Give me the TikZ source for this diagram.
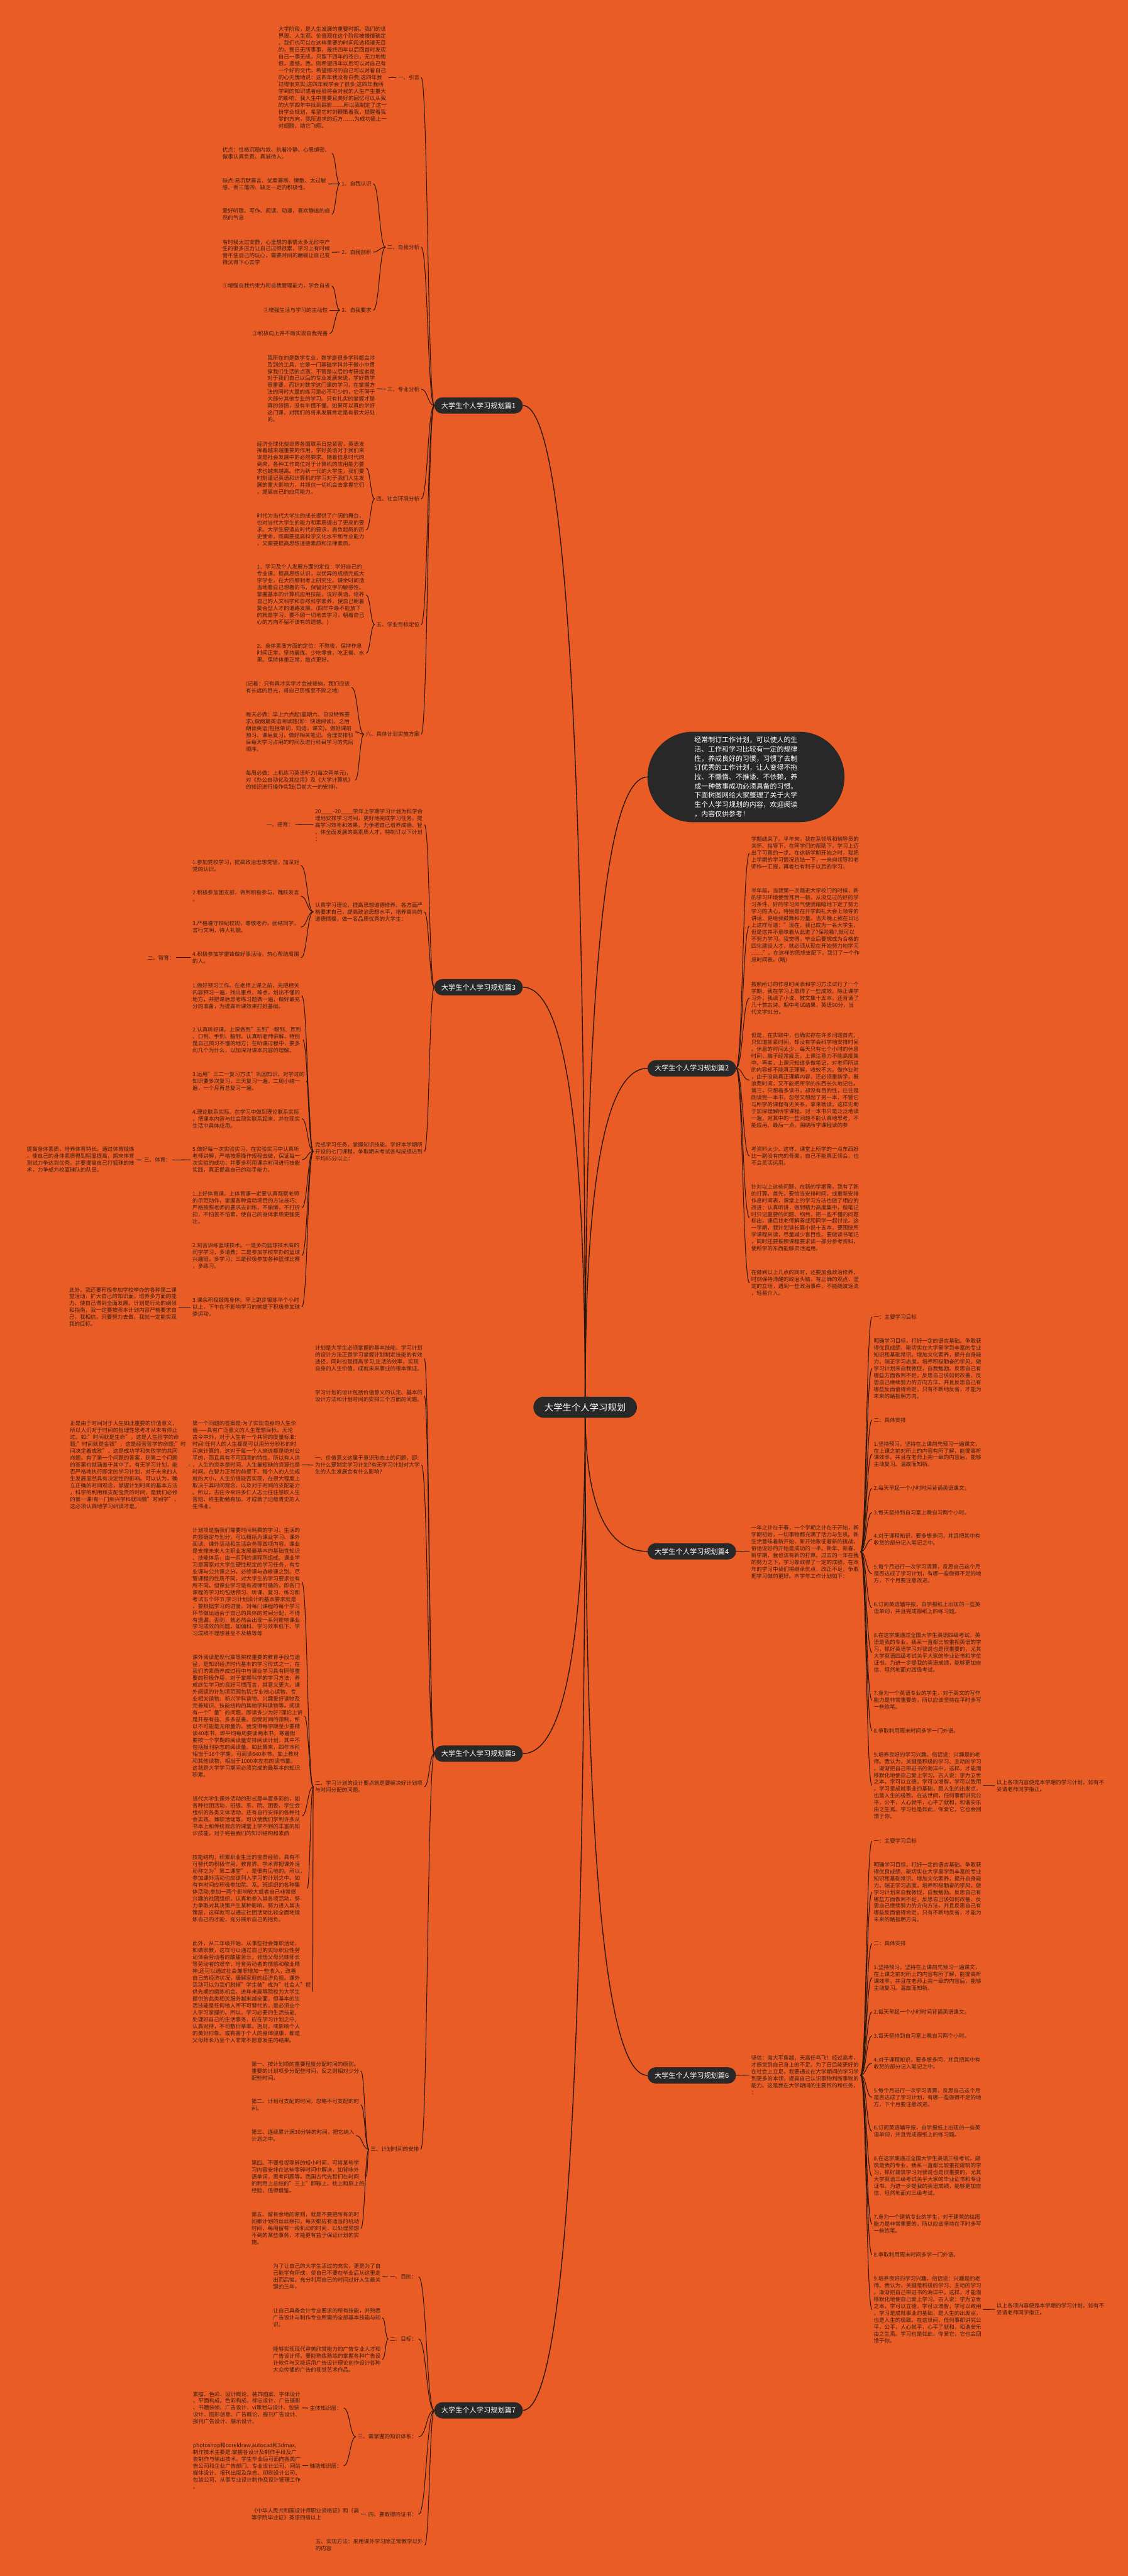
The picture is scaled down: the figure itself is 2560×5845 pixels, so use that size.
\documentclass[tikz,border=0pt]{standalone}
\usepackage{fontspec}
\setmainfont{Noto Sans CJK SC}
\usetikzlibrary{calc}
\definecolor{bgc}{RGB}{234,92,38}
\definecolor{nodec}{RGB}{40,40,40}
\definecolor{linec}{RGB}{40,24,16}
\definecolor{txtc}{RGB}{52,30,20}
\newcommand\leaffnt{\fontsize{12.2}{15.65}\selectfont}
\pgfdeclarelayer{back}
\pgfsetlayers{back,main}
\newcommand\lnk[2]{\draw[conn] let \p1=(#1), \p2=(#2) in (\p1) .. controls ({(\x1+\x2)/2},\y1) and ({(\x1+\x2)/2},\y2) .. (\p2);}
\newcommand\mygoaltxt{明确学习目标，打好一定的语言基础。争取获\\得优良成绩，能切实在大学里学到丰富的专业\\知识和基础常识。增加文化素养，提升自身能\\力，端正学习态度，培养积极勤奋的学风。做\\学习计划来自我敦促，自我勉励。反思自己有\\哪些方面做到不足，反思自己该如何改善、反\\思自己继续努力的方向方法，并且反思自己有\\哪些反面值得肯定，只有不断地反省，才能为\\未来的路指明方向。}
\newcommand\mypretxt{1.坚持预习，坚持在上课前先预习一遍课文，\\在上课之前对所上的内容有所了解，能提高听\\课效率。并且在老师上完一章的内容后，能够\\主动复习。温故而知新。}
\newcommand\myninetxt{9.培养良好的学习兴趣。俗话说：兴趣是的老\\师。我认为，关键是积极的学习、主动的学习\\。渐渐把自己带进书的海洋中，这样，才能潜\\移默化地使自己爱上学习。古人说：学为立世\\之本，学可以立德，学可以增智，学可以致用\\。学习是成就事业的基础，是人生的出发点，\\也是人生的极致。在这世间，任何事都讲究公\\平，公平，人心就平，心平了就和，和谐安乐\\由之生焉。学习也是如此，你爱它，它也会回\\馈于你。}
\newcommand\myendtxt{以上各项内容便是本学期的学习计划，如有不\\妥请老师同学指正。}
\begin{document}
\begin{tikzpicture}[x=1pt,y=-1pt,
 leaf/.style={font=\leaffnt,text=txtc,align=left,inner sep=0pt,outer sep=4pt},
 bnode/.style={fill=nodec,text=white,rounded corners=18.5pt,minimum width=201pt,minimum height=37pt,inner sep=0pt,outer sep=0pt,font=\fontsize{16}{18}\selectfont},
 rootn/.style={fill=nodec,text=white,rounded corners=24pt,minimum width=235pt,minimum height=48pt,inner sep=0pt,outer sep=0pt,font=\fontsize{20.5}{22}\selectfont},
 bubble/.style={fill=nodec,text=white,rounded corners=102pt,minimum width=447pt,minimum height=205pt,inner sep=0pt,outer sep=0pt,align=left,font=\fontsize{15.6}{21}\selectfont},
 conn/.style={draw=linec,line width=1.5pt},
 trunk/.style={draw=linec,line width=2pt}]
\useasboundingbox (0,0) rectangle (2560,5845);

% ---------- root and main branches ----------
\node[rootn] (root) at (1328,3193) {大学生个人学习规划};
\node[bnode] (b1) at (1086,920) {大学生个人学习规划篇1};
\node[bnode] (b3) at (1086,2240) {大学生个人学习规划篇3};
\node[bnode] (b5) at (1086,3979) {大学生个人学习规划篇5};
\node[bnode] (b7) at (1086,5469) {大学生个人学习规划篇7};
\node[bnode] (b2) at (1570,2424) {大学生个人学习规划篇2};
\node[bnode] (b4) at (1570,3520) {大学生个人学习规划篇4};
\node[bnode] (b6) at (1570,4709) {大学生个人学习规划篇6};
\node[bubble] (intro) at (1693,1763) {经常制订工作计划，可以使人的生\\活、工作和学习比较有一定的规律\\性，养成良好的习惯，习惯了去制\\订优秀的工作计划，让人变得不拖\\拉、不懒惰、不推诿、不依赖，养\\成一种做事成功必须具备的习惯。\\下面树图网给大家整理了关于大学\\生个人学习规划的内容，欢迎阅读\\，内容仅供参考！};

% ---------- branch 1 ----------
\node[leaf,anchor=east] (l1a) at (956,176) {一、引言};
\node[leaf,anchor=west] (t1a) at (628,176) {大学阶段，是人生发展的重要时期。我们的世\\界观、人生观、价值观在这个阶段被慢慢确定\\。我们也可以在这样重要的时间段选择漫无目\\的，整日无所事事，最终四年以后回首时发现\\自己一事无成，只留下四年的苍白，无力地悔\\恨，遗憾。我，则希望四年以后可以对自己有\\一个好的交代，希望那时的自己可以对着自己\\的心无愧地说：这四年我没有白费;这四年我\\过得很充实;这四年我学会了很多;这四年我所\\学到的知识或者经验将会对我的人生产生重大\\的影响。我人生中重要且美好的回忆可以从我\\的大学四年中找到踪影……所以我制定了这一\\份学业规划，希望它时刻鞭策着我，提醒着我\\梦的方向，我所追求的远方……为成功插上一\\对翅膀，助它飞翔。};
\node[leaf,anchor=east] (l1b) at (956,561) {二、自我分析};
\node[leaf,anchor=east] (l1b1) at (847,417) {1、自我认识};
\node[leaf,anchor=east] (l1b2) at (847,572) {2、自我剖析};
\node[leaf,anchor=east] (l1b3) at (847,704) {3、自我要求};
\node[leaf,anchor=west] (t1b1a) at (501,348) {优点：性格沉稳内敛、执着冷静、心思缜密、\\做事认真负责、真诚待人。};
\node[leaf,anchor=west] (t1b1b) at (501,417.5) {缺点:易沉默寡言、优柔寡断、懒散、太过敏\\感、丢三落四、缺乏一定的积极性。};
\node[leaf,anchor=west] (t1b1c) at (501,486.5) {爱好听歌、写作、阅读、动漫，喜欢静谧的自\\然的气息};
\node[leaf,anchor=west] (t1b2) at (501,572.5) {有时候太过安静，心里想的事情太多无形中产\\生的很多压力让自己过得很累，学习上有时候\\管不住自己的玩心，需要时间的磨砺让自己变\\得沉得下心去学};
\node[leaf,anchor=west] (t1b3a) at (501,649) {①增强自我约束力和自我管理能力，学会自省};
\node[leaf,anchor=east] (t1b3b) at (748,704) {②增强生活与学习的主动性};
\node[leaf,anchor=east] (t1b3c) at (748,757) {③积极向上并不断实现自我完善};
\node[leaf,anchor=east] (l1c) at (956,883) {三、专业分析};
\node[leaf,anchor=west] (t1c) at (603,882) {我所在的是数学专业，数学是很多学科都会涉\\及到的工具，它是一门基础学科并于微小中贯\\穿我们生活的点滴。不管是以后的考研或者是\\对于我们自己以后的专业发展来说，学好数学\\很重要。而针对数学这门课的学习，在掌握方\\法的同时大量的练习是必不可少的，它不同于\\大部分其他专业的学习。只有扎实的掌握才是\\真的领悟，没有半懂不懂。如果可以真的学好\\这门课，对我们的将来发展肯定是有很大好处\\的。};
\node[leaf,anchor=east] (l1d) at (956,1132) {四、社会环境分析};
\node[leaf,anchor=west] (t1d1) at (579,1062) {经济全球化使世界各国联系日益紧密，英语发\\挥着越来越重要的作用，学好英语对于我们来\\说是社会发展中的必然要求。随着信息时代的\\到来，各种工作岗位对于计算机的应用能力要\\求也越来越高。作为新一代的大学生，我们要\\时刻谨记英语和计算机的学习对于我们人生发\\展的重大影响力，并抓住一切机会去掌握它们\\，提高自己的应用能力。};
\node[leaf,anchor=west] (t1d2) at (579,1202.5) {时代为当代大学生的成长提供了广阔的舞台，\\也对当代大学生的能力和素质提出了更高的要\\求。大学生要适应时代的要求，肩负起新的历\\史使命，既需要提高科学文化水平和专业能力\\，又需要提高思想道德素质和法律素质。};
\node[leaf,anchor=east] (l1e) at (956,1417) {五、学业目标定位};
\node[leaf,anchor=west] (t1e1) at (579,1350) {1、学习及个人发展方面的定位：学好自己的\\专业课，提高思想认识，以优异的成绩完成大\\学学业，在大四顺利考上研究生。课余时间适\\当地看自己想看的书，保留对文字的敏感性。\\掌握基本的计算机应用技能，说好英语。培养\\自己的人文科学和自然科学素养，使自己朝着\\复合型人才的道路发展。(四年中最不能放下\\的就是学习，要不顾一切地去学习，朝着自己\\心的方向不留不该有的遗憾。)};
\node[leaf,anchor=west] (t1e2) at (579,1482) {2、身体素质方面的定位：不熬夜，保持作息\\时间正常。坚持晨炼。少吃零食，吃正餐、水\\果。保持体重正常，痘点更好。};
\node[leaf,anchor=east] (l1f) at (956,1666) {六、具体计划实施方案};
\node[leaf,anchor=west] (t1f1) at (554,1560) {(记着：只有真才实学才会被接纳，我们应该\\有长远的目光，将自己历练至不败之地)};
\node[leaf,anchor=west] (t1f2) at (554,1660.5) {每天必做：早上六点起(星期六、日没特殊要\\求),做两篇英语阅读题(如：快速阅读)。之后\\朗读英语(包括单词，短语，课文)。做好课前\\预习、课后复习，做好相关笔记。合理安排科\\目每天学习占用的时间及进行科目学习的先后\\顺序。};
\node[leaf,anchor=west] (t1f3) at (554,1770) {每周必做：上机练习英语听力(每次两单元)，\\对《办公自动化及其应用》及《大学计算机》\\的知识进行操作实践(目前大一的安排)。};

% ---------- branch 3 ----------
\node[leaf,anchor=west] (t3a) at (711,1871.5) {20\_\_\_\_-20\_\_\_\_学年上学期学习计划为科学合\\理地安排学习时间，更好地完成学习任务，提\\高学习效率和效果，力争把自己培养成德、智\\、体全面发展的高素质人才，特制订以下计划\\：};
\node[leaf,anchor=east] (l3a) at (670,1871) {一、德育：};
\node[leaf,anchor=west] (t3b) at (711,2069) {认真学习理论，提高思想道德修养。各方面严\\格要求自己，提高政治思想水平，培养高尚的\\道德情操，做一名品质优秀的大学生：};
\node[leaf,anchor=west] (t3b1) at (433,1964) {1.参加党校学习，提高政治思想觉悟，加深对\\党的认识。};
\node[leaf,anchor=west] (t3b2) at (433,2033.5) {2.积极参加团支部，做到积极参与，踊跃发言\\。};
\node[leaf,anchor=west] (t3b3) at (433,2103.5) {3.严格遵守校纪校规，尊敬老师，团结同学，\\言行文明，待人礼貌。};
\node[leaf,anchor=west] (t3b4) at (433,2173) {4.积极参加学雷锋做好事活动，热心帮助周围\\的人。};
\node[leaf,anchor=east] (l3z) at (400,2173) {二、智育：};
\node[leaf,anchor=west] (t3c) at (711,2612.5) {完成学习任务，掌握知识技能。学好本学期所\\开设的七门课程，争取期末考试各科成绩达到\\平均85分以上：};
\node[leaf,anchor=west] (t3c1) at (433,2259.5) {1.做好预习工作。在老师上课之前，先把相关\\内容预习一遍，找出重点、难点，划出不懂的\\地方，并把课后思考练习题做一遍，做好最充\\分的准备，为提高听课效果打好基础。};
\node[leaf,anchor=west] (t3c2) at (433,2359.5) {2.认真听好课。上课做到"五到"-眼到、耳到\\、口到、手到、脑到。认真听老师讲解，特别\\是自己预习不懂的地方；在听课过程中，要多\\问几个为什么，以加深对课本内容的理解。};
\node[leaf,anchor=west] (t3c3) at (433,2453) {3.运用"三二一复习方法"巩固知识。对学过的\\知识要多次复习，三天复习一遍，二周小结一\\遍，一个月再总复习一遍。};
\node[leaf,anchor=west] (t3c4) at (433,2538.5) {4.理论联系实际。在学习中做到理论联系实际\\，把课本内容与社会现实联系起来，并在现实\\生活中具体应用。};
\node[leaf,anchor=west] (t3c5) at (433,2631.5) {5.做好每一次实验实习。在实验实习中认真听\\老师讲解，严格按照操作规程去做，保证每一\\次实验的成功；并要多利用课余时间进行技能\\实践，真正提高自己的动手能力。};
\node[leaf,anchor=west] (t3c6) at (433,2740.5) {1.上好体育课。上体育课一定要认真观察老师\\的示范动作，掌握各种运动项目的方法技巧；\\严格按照老师的要求去训练，不偷懒，不打折\\扣，不怕苦不怕累，使自己的身体素质更强更\\壮。};
\node[leaf,anchor=west] (t3c7) at (433,2849) {2.刻苦训练篮球技术。一是多向篮球技术高的\\同学学习，多请教；二是参加学校举办的篮球\\兴趣班，多学习；三是积极参加各种篮球比赛\\，多练习。};
\node[leaf,anchor=west] (t3c8) at (433,2965.5) {3.课余积极锻炼身体。早上跑步锻炼半个小时\\以上，下午在不影响学习的前提下积极参加球\\类运动。};
\node[leaf,anchor=east] (l3t) at (392,2632) {三、体育：};
\node[leaf,anchor=west] (t3t) at (57,2631.5) {提高身体素质，培养体育特长。通过体育锻炼\\，使自己的身体素质得到明显提高，期末体育\\测试力争达到优秀，并要提高自己打篮球的技\\术，力争成为校篮球队的队员。};
\node[leaf,anchor=west] (t3x) at (153,2965.5) {此外，我还要积极参加学校举办的各种第二课\\堂活动，扩大自己的知识面，培养多方面的能\\力，使自己得到全面发展。计划是行动的纲领\\和指南，我一定要按照本计划内容严格要求自\\己。我相信，只要努力去做，我就一定能实现\\我的目标。};

% ---------- branch 5 ----------
\node[leaf,anchor=west] (t5a) at (711,3082.5) {计划是大学生必须掌握的基本技能。学习计划\\的设计方法正是学习掌握计划制定技能的有效\\途径，同时也是提高学习,生活的效率，实现\\自身的人生价值，成就未来事业的根本保证。};
\node[leaf,anchor=west] (t5b) at (711,3167) {学习计划的设计包括价值意义的认定、基本的\\设计方法和计划时间的安排三个方面的问题。};
\node[leaf,anchor=west] (t5c) at (711,3324) {一、价值意义这属于意识形态上的问题，即:\\为什么要制定学习计划?有无学习计划对大学\\生的人生发展会有什么影响?};
\node[leaf,anchor=west] (t5c1) at (433,3323.5) {第一个问题的答案是:为了实现自身的人生价\\值——具有广泛意义的人生理想目标。无论\\古今中外，对于人生有一个共同的度量标准:\\时间!任何人的人生都是可以用分分秒秒的时\\间来计算的，这对于每一个人来说都是绝对公\\平的，而且具有不可回溯的特性。所以有人讲\\，人生的资本是时间，人生最短缺的资源也是\\时间。在智力正常的前提下，每个人的人生成\\就的大小，人生价值能否实现，在很大程度上\\取决于其时间观念，以及对于时间的支配能力\\。所以，古往今来许多仁人志士往往感叹人生\\苦短，终生勤勉有加，才成就了记载青史的人\\生伟业。};
\node[leaf,anchor=west] (t5c2) at (155,3323.5) {正是由于时间对于人生如此重要的价值意义，\\所以人们对于时间的哲理性思考才从未有停止\\过。如:"时间就是生命"，这是人生哲学的命\\题;"时间就是金钱"，这是经营哲学的命题;"时\\间决定着成败"，这是成功学和失败学的共同\\命题。有了第一个问题的答案，则第二个问题\\的答案也就涵盖于其中了。有无学习计划，能\\否严格地执行即定的学习计划，对于未来的人\\生发展显然具有决定性的影响。可以认为，确\\立正确的时间观念，掌握计划时间的基本方法\\，科学的利用和支配宝贵的时间，是我们必修\\的第一课!有一门新兴学科就叫做"时间学"，\\这必须认真地学习研读才是。};
\node[leaf,anchor=west] (t5d) at (711,4054) {二、学习计划的设计要点就是要解决好计划项\\与时间分配的问题。};
\node[leaf,anchor=west] (t5d1) at (433,3589.5) {计划项是指我们需要时间耗费的学习、生活的\\内容确定与划分，可以概括为课业学习、课外\\阅读、课外活动和生活杂务等四项内容。课业\\是支撑未来人生职业发展最基本的基础性知识\\、技能体系，由一系列的课程所组成。课业学\\习是国家对大学生硬性规定的学习任务，有专\\业课与公共课之分，必修课与选修课之别。尽\\管课程的性质不同，对大学生的学习要求也有\\所不同，但课业学习是有规律可循的，即各门\\课程的学习均包括预习、听课、复习、练习和\\考试五个环节,学习计划设计的基本要求就是\\，要根据学习的进度，对每门课程的每个学习\\环节做出适合于自己的具体的时间分配，不得\\有遗漏。否则，就必然会出现一系列影响课业\\学习成效的问题，如偏科、学习效率低下、学\\习成绩不理想甚至不及格等等};
\node[leaf,anchor=west] (t5d2) at (433,3894) {课外阅读是现代高等院校重要的教育手段与途\\径，是知识经济时代基本的学习形式之一，在\\我们的素质养成过程中与课业学习具有同等重\\要的积极作用，对于掌握科学的学习方法，养\\成终生学习的良好习惯而言，其意义更大。课\\外阅读的计划项范围包括:专业核心读物、专\\业相关读物、新兴学科读物、兴趣爱好读物及\\完善知识、技能结构的其他学科读物等。阅读\\有一个"量"的问题，即读多少为好?理论上讲\\是开卷有益、多多益善。但受时间的限制，所\\以不可能是无限量的。我觉得每学期至少要精\\读40本书，即平均每周要读两本书，寒暑假\\要按一个学期的阅读量安排阅读计划，其中不\\包括报刊杂志的阅读量。如此算来，四年本科\\相当于16个学期，可阅读640本书，加上教材\\和其他读物，相当于1000本左右的读书量。\\这就是大学学习期间必须完成的最基本的知识\\积累。};
\node[leaf,anchor=west] (t5d3) at (433,4120.5) {当代大学生课外活动的形式是丰富多彩的，如\\各种社团活动，班级、系、院、团委、学生会\\组织的各类文体活动，还有自行安排的各种社\\会实践、兼职活动等，可以使我们学到许多从\\书本上和传统观念的课堂上学不到的丰富的知\\识技能，对于完善我们的知识结构和素质};
\node[leaf,anchor=west] (t5d4) at (433,4284.5) {技能结构，积累职业生涯的宝贵经验，具有不\\可替代的积极作用，教育界、学术界把课外活\\动称之为"第二课堂"，是很有见地的。所以，\\参加课外活动也应该列入学习的计划之中。如\\有有时间应积极参加院、系、班组织的各种集\\体活动;参加一两个影响较大或者自己非常感\\兴趣的社团组织，认真地参入其各项活动，努\\力争取对其决策产生某种影响，努力进入其决\\策层，这样就可以通过社团活动比较全面地锻\\炼自己的才能，充分展示自己的抱负。};
\node[leaf,anchor=west] (t5d5) at (433,4519.5) {此外，从二年级开始，从事些社会兼职活动，\\如做家教，这样可以通过自己的实际职业性劳\\动体会劳动者的酸甜苦乐，领悟父母兄妹师长\\等劳动者的艰辛，培育劳动者的情感和敬业精\\神;还可以通过社会兼职增加一些收入，改善\\自己的经济状况，缓解家庭的经济负担。课外\\活动可以为我们脱掉"学生装"成为"社会人"提\\供先期的磨练机会。进年来高等院校为大学生\\提供的此类相关服务越来越全面，但基本的生\\活技能是任何他人所不可替代的，是必须由个\\人学习掌握的。所以，学习必要的生活技能,\\处理好自己的生活事务，应在学习计划之中,\\认真对待，不可敷衍草率。否则，或影响个人\\的美好形象。或有害于个人的身体健康，都是\\父母师长乃至个人非常不愿意发生的结果。};
\node[leaf,anchor=east] (l5e) at (955,4877) {三、计划时间的安排};
\node[leaf,anchor=west] (t5e1) at (567,4699) {第一、按计划项的重要程度分配时间的原则。\\重要的计划项多分配些时间，反之则相对少分\\配些时间。};
\node[leaf,anchor=west] (t5e2) at (567,4776) {第二、计划可支配的时间，忽略不可支配的时\\间。};
\node[leaf,anchor=west] (t5e3) at (567,4845.5) {第三、连续累计满30分钟的时间，把它纳入\\计划之中。};
\node[leaf,anchor=west] (t5e4) at (567,4939) {第四、不要忽视零碎的短小时间，可将某些学\\习内容安排在这些零碎时间中解决，如背咏外\\语单词，思考问题等。我国古代先哲们在时间\\的利用上总结的"三上"即鞍上、枕上和厕上的\\经验，值得借鉴。};
\node[leaf,anchor=west] (t5e5) at (567,5056.5) {第五、留有余地的原则，就是不要把所有的时\\间都计划的丝丝相扣，每天都应有适当的机动\\时间，每周留有一段机动的时间，以处理预想\\不到的某些事务，才能更有益于保证计划的实\\施。};

% ---------- branch 7 ----------
\node[leaf,anchor=east] (l7a) at (950,5166) {一、目的：};
\node[leaf,anchor=west] (t7a) at (616,5165.5) {为了让自己的大学生活过的充实，更是为了自\\己能学有所成。使自已不要在毕业后从这里走\\出而后悔。充分利用自已的时间过好人生最关\\键的三年，};
\node[leaf,anchor=east] (l7b) at (950,5307) {二、目标：};
\node[leaf,anchor=west] (t7b1) at (616,5259) {让自己具备会计专业要求的所有技能，并熟悉\\广告设计与制作专业所需的全部基本技能与知\\识。};
\node[leaf,anchor=west] (t7b2) at (616,5353.5) {能够实现现代审美欣赏能力的广告专业人才和\\广告设计师，要能熟练熟练的掌握各种广告设\\计软件与又能运用广告设计理论创作设计各种\\大众传播的广告的视觉艺术作品。};
\node[leaf,anchor=east] (l7c) at (950,5529) {三、需掌握的知识体系：};
\node[leaf,anchor=east] (l7c1) at (780,5464) {主体知识层：};
\node[leaf,anchor=east] (l7c2) at (780,5595) {辅助知识层：};
\node[leaf,anchor=west] (t7c1) at (434,5463.5) {素描、色彩、设计概论、装饰图案、字体设计\\、平面构成。色彩构成、标志设计、广告摄影\\、书籍装帧、广告设计、vi策划与设计、包装\\设计、图形创意、广告概论、报刊广告设计、\\报刊广告设计、展示设计。};
\node[leaf,anchor=west] (t7c2) at (434,5595) {photoshop和coreldraw,autocad和3dmax,\\制作技术主要是:掌握各设计及制作手段及广\\告制作与输出技术。学生毕业后可面向各类广\\告公司和企业广告部门、专业设计公司、网站\\媒体设计、报刊出版及杂志、印刷设计公司、\\包装公司、从事专业设计制作及设计管理工作\\。};
\node[leaf,anchor=east] (l7d) at (950,5705) {四、要取得的证书：};
\node[leaf,anchor=west] (t7d) at (567,5705) {《中华人民共和国设计师职业资格证》和《高\\等学院毕业证》英语四级以上};
\node[leaf,anchor=west] (t7e) at (712,5775) {五、实现方法：采用课外学习除正常教学以外\\的内容};

% ---------- branch 2 ----------
\node[leaf,anchor=west] (t2a) at (1701,1936) {学期结束了。半年来，我在系领导和辅导员的\\关怀、指导下，在同学们的帮助下，学习上迈\\出了可喜的一步。在这新学期开始之时，我把\\上学期的学习情况总结一下，一来向领导和老\\师作一汇报，再者也有利于以后的学习。};
\node[leaf,anchor=west] (t2b) at (1701,2100.5) {半年前，当我第一次踏进大学校门的时候，新\\的学习环境使我耳目一新。从没见过的好的学\\习条件、好的学习风气使我暗暗地下定了努力\\学习的决心，特别是在开学典礼大会上领导的\\讲话，更给我鼓舞和力量。当天晚上我在日记\\上这样写道："现在，我已成为一名大学生，\\但是这并不意味着从此进了?保险箱?,就可以\\不努力学习。我觉得，毕业后要想成为合格的\\四化建设人才，就必须从现在开始努力地学习\\……"。在这样的思想支配下，我订了一个作\\息时间表。(略)};
\node[leaf,anchor=west] (t2c) at (1701,2264.5) {按照所订的作息时间表和学习方法试行了一个\\学期，我在学习上取得了一些成效。除正课学\\习外，我读了小说、散文集十五本，还背诵了\\几十首古诗。期中考试结果，英语90分，当\\代文学91分。};
\node[leaf,anchor=west] (t2d) at (1701,2451) {但是，在实践中，也确实存在许多问题首先，\\只知道抓紧时间，却没有学会科学地安排时间\\。休息的时间太少，每天只有七个小时的休息\\时间，脑子经常疲乏，上课注意力不能高度集\\中。再者，上课只知道多做笔记，对老师所讲\\的内容却不能真正理解，收效不大。做作业时\\，由于没能真正理解内容，还必须重新学，既\\浪费时间，又不能把所学的东西长久地记住。\\第三，只想着多读书，却没有目的性，往往是\\刚读完一本书，忽然又想起了另一本，不管它\\与所学的课程有无关系，拿来就读，这样无助\\于加深理解所学课程。对一本书只是泛泛地读\\一遍，对其中的一些问题不能认真地思考，不\\能应用。最后一点，围绕所学课程读的参};
\node[leaf,anchor=west] (t2e) at (1701,2623) {考资料太少。这样，课堂上所学的一点东西好\\比一副没有肉的骨架，自己不能真正领会，也\\不会灵活运用。};
\node[leaf,anchor=west] (t2f) at (1701,2763) {针对以上这些问题，在新的学期里，我有了新\\的打算。首先，要恰当安排时间，或重新安排\\作息时间表，课堂上的学习方法也做了相应的\\改进：认真听讲，做到精力高度集中，做笔记\\时只记重要的问题、纲目，把一些不懂的问题\\标出，课后找老师解答或和同学一起讨论。这\\一学期，我计划读长篇小说十五本，要围绕所\\学课程来读，尽量减少盲目性。要做读书笔记\\，同时还要按照课程要求读一部分参考资料，\\使所学的东西能够灵活运用。};
\node[leaf,anchor=west] (t2g) at (1701,2911) {在做到以上几点的同时，还要加强政治修养，\\时刻保持清醒的政治头脑，有正确的观点，坚\\定的立场，遇到一些政治事件，不能随波逐流\\，轻易介入。};

% ---------- branch 4 ----------
\node[leaf,anchor=west] (t4) at (1701,3521) {一年之计在于春，一个学期之计在于开始，新\\学期初始，一切事物都充满了活力与生机。新\\生活意味着新开始，新开始象征着新的挑战。\\俗话说好的开始是成功的一半。新年、新春、\\新学期，我也该有新的打算。过去的一年在我\\的努力之下，学习部取得了一定的成绩，在本\\年的学习中我们将继承优点，改正不足，争取\\把学习做的更好。本学年工作计划如下：};
\node[leaf,anchor=west] (c4a) at (1979,2988) {一：主要学习目标};
\node[leaf,anchor=west] (c4b) at (1979,3105) {\mygoaltxt};
\node[leaf,anchor=west] (c4c) at (1979,3222) {二：具体安排};
\node[leaf,anchor=west] (c4d) at (1979,3299.5) {\mypretxt};
\node[leaf,anchor=west] (c4e) at (1979,3377) {2.每天早起一个小时时间背诵英语课文。};
\node[leaf,anchor=west] (c4f) at (1979,3432) {3.每天坚持到自习室上晚自习两个小时。};
\node[leaf,anchor=west] (c4g) at (1979,3493) {4.对于课程知识，要多想多问，并且把其中有\\收货的部分记入笔记之中。};
\node[leaf,anchor=west] (c4h) at (1979,3571) {5.每个月进行一次学习清算，反思自己这个月\\是否达成了学习计划，有哪一些做得不足的地\\方，下个月要注意改进。};
\node[leaf,anchor=west] (c4i) at (1979,3648) {6.订阅英语辅导报，自学报纸上出现的一些英\\语单词，并且完成报纸上的练习题。};
\node[leaf,anchor=west] (c4j) at (1979,3749.5) {8.在这学期通过全国大学生英语四级考试，英\\语是我的专业，我系一直都比较重视英语的学\\习，抓好英语学习对我说也是很重要的，尤其\\大学英语四级考试关乎大家的毕业证书和学位\\证书。为进一步提我的英语成绩，能够更加自\\信、坦然地面对四级考试。};
\node[leaf,anchor=west] (c4k) at (1979,3858) {7.身为一个英语专业的学生，对于英文的写作\\能力是非常重要的，所以应该坚持在平时多写\\一些练笔。};
\node[leaf,anchor=west] (c4l) at (1979,3927) {8.争取利用周末时间多学一门外语。};
\node[leaf,anchor=west] (c4m) at (1979,4051.5) {\myninetxt};
\node[leaf,anchor=west] (t4end) at (2258,4052) {\myendtxt};

% ---------- branch 6 ----------
\node[leaf,anchor=west] (t6) at (1701,4708.5) {坚信：海大平鱼越，天高任鸟飞！经过高考，\\才感觉到自己身上的不足。为了日后能更好的\\在社会上立足，我要通过在大学期间的学习学\\到更多的本领，提高自己认识事物判断事物的\\能力。这是我在大学期间的主要目的和任务。\\：};
\node[leaf,anchor=west] (c6a) at (1979,4177) {一：主要学习目标};
\node[leaf,anchor=west] (c6b) at (1979,4293.5) {\mygoaltxt};
\node[leaf,anchor=west] (c6c) at (1979,4410) {二：具体安排};
\node[leaf,anchor=west] (c6d) at (1979,4487.5) {\mypretxt};
\node[leaf,anchor=west] (c6e) at (1979,4565) {2.每天早起一个小时时间背诵英语课文。};
\node[leaf,anchor=west] (c6f) at (1979,4619) {3.每天坚持到自习室上晚自习两个小时。};
\node[leaf,anchor=west] (c6g) at (1979,4681) {4.对于课程知识，要多想多问，并且把其中有\\收货的部分记入笔记之中。};
\node[leaf,anchor=west] (c6h) at (1979,4759) {5.每个月进行一次学习清算，反思自己这个月\\是否达成了学习计划，有哪一些做得不足的地\\方，下个月要注意改进。};
\node[leaf,anchor=west] (c6i) at (1979,4836) {6.订阅英语辅导报，自学报纸上出现的一些英\\语单词，并且完成报纸上的练习题。};
\node[leaf,anchor=west] (c6j) at (1979,4937.5) {8.在这学期通过全国大学生英语三级考试，建\\筑是我的专业，我系一直都比较重视建筑的学\\习，抓好建筑学习对我说也是很重要的，尤其\\大学英语三级考试关乎大家的毕业证书和专业\\证书。为进一步提我的英语成绩，能够更加自\\信、坦然地面对三级考试。};
\node[leaf,anchor=west] (c6k) at (1979,5046.5) {7.身为一个建筑专业的学生，对于建筑的绘图\\能力是非常重要的，所以应该坚持在平时多写\\一些练笔。};
\node[leaf,anchor=west] (c6l) at (1979,5116) {8.争取利用周末时间多学一门外语。};
\node[leaf,anchor=west] (c6m) at (1979,5240.5) {\myninetxt};
\node[leaf,anchor=west] (t6end) at (2258,5240) {\myendtxt};

% ---------- connectors ----------
\begin{pgfonlayer}{back}
\fill[bgc] (0,0) rectangle (2560,5845);
% root to branches
\draw[trunk] (b1.east) .. controls (1300,920) and (1328,1988) .. (root.center);
\draw[trunk] (b3.east) .. controls (1300,2240) and (1328,2688) .. (root.center);
\draw[trunk] (b5.east) .. controls (1300,3979) and (1328,3610) .. (root.center);
\draw[trunk] (b7.east) .. controls (1300,5469) and (1328,4399) .. (root.center);
\draw[trunk] (intro.west) .. controls (1356,1763) and (1328,2435) .. (root.center);
\draw[trunk] (b2.west) .. controls (1356,2424) and (1328,2785) .. (root.center);
\draw[trunk] (b4.west) .. controls (1356,3520) and (1328,3366) .. (root.center);
\draw[trunk] (b6.west) .. controls (1356,4709) and (1328,3997) .. (root.center);
% branch 1
\foreach \nd in {l1a,l1b,l1c,l1d,l1e,l1f} {\lnk{b1.west}{\nd.east}}
\lnk{l1a.west}{t1a.east}
\foreach \nd in {l1b1,l1b2,l1b3} {\lnk{l1b.west}{\nd.east}}
\foreach \nd in {t1b1a,t1b1b,t1b1c} {\lnk{l1b1.west}{\nd.east}}
\lnk{l1b2.west}{t1b2.east}
\foreach \nd in {t1b3a,t1b3b,t1b3c} {\lnk{l1b3.west}{\nd.east}}
\lnk{l1c.west}{t1c.east}
\foreach \nd in {t1d1,t1d2} {\lnk{l1d.west}{\nd.east}}
\foreach \nd in {t1e1,t1e2} {\lnk{l1e.west}{\nd.east}}
\foreach \nd in {t1f1,t1f2,t1f3} {\lnk{l1f.west}{\nd.east}}
% branch 3
\foreach \nd in {t3a,t3b,t3c} {\lnk{b3.west}{\nd.east}}
\lnk{t3a.west}{l3a.east}
\foreach \nd in {t3b1,t3b2,t3b3,t3b4} {\lnk{t3b.west}{\nd.east}}
\lnk{t3b4.west}{l3z.east}
\foreach \nd in {t3c1,t3c2,t3c3,t3c4,t3c5,t3c6,t3c7,t3c8} {\lnk{t3c.west}{\nd.east}}
\lnk{t3c5.west}{l3t.east}
\lnk{l3t.west}{t3t.east}
\lnk{t3c8.west}{t3x.east}
% branch 5
\foreach \nd in {t5a,t5b,t5c,t5d,l5e} {\lnk{b5.west}{\nd.east}}
\lnk{t5c.west}{t5c1.east}
\lnk{t5c1.west}{t5c2.east}
\foreach \nd in {t5d1,t5d2,t5d3,t5d4,t5d5} {\lnk{t5d.west}{\nd.east}}
\foreach \nd in {t5e1,t5e2,t5e3,t5e4,t5e5} {\lnk{l5e.west}{\nd.east}}
% branch 7
\foreach \nd in {l7a,l7b,l7c,l7d,t7e} {\lnk{b7.west}{\nd.east}}
\lnk{l7a.west}{t7a.east}
\foreach \nd in {t7b1,t7b2} {\lnk{l7b.west}{\nd.east}}
\foreach \nd in {l7c1,l7c2} {\lnk{l7c.west}{\nd.east}}
\lnk{l7c1.west}{t7c1.east}
\lnk{l7c2.west}{t7c2.east}
\lnk{l7d.west}{t7d.east}
% branch 2
\foreach \nd in {t2a,t2b,t2c,t2d,t2e,t2f,t2g} {\lnk{b2.east}{\nd.west}}
% branch 4
\lnk{b4.east}{t4.west}
\foreach \nd in {c4a,c4b,c4c,c4d,c4e,c4f,c4g,c4h,c4i,c4j,c4k,c4l,c4m} {\lnk{t4.east}{\nd.west}}
\lnk{c4m.east}{t4end.west}
% branch 6
\lnk{b6.east}{t6.west}
\foreach \nd in {c6a,c6b,c6c,c6d,c6e,c6f,c6g,c6h,c6i,c6j,c6k,c6l,c6m} {\lnk{t6.east}{\nd.west}}
\lnk{c6m.east}{t6end.west}
\end{pgfonlayer}
\end{tikzpicture}
\end{document}
